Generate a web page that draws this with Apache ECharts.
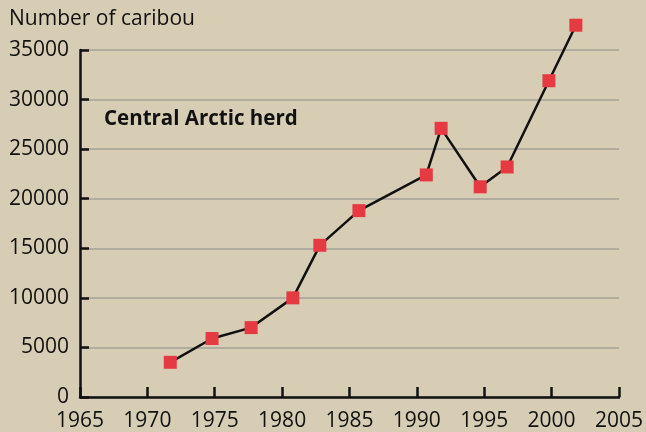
<!DOCTYPE html>
<html>
<head>
<meta charset="utf-8">
<script src="https://cdn.jsdelivr.net/npm/echarts@6/dist/echarts.min.js"></script>
<style>
  html, body { margin: 0; padding: 0; background: #d6cdb4; }
  #chart { width: 646px; height: 432px; }
</style>
</head>
<body>
<div id="chart"></div>
<script>
  // survey years and herd counts
  var years = [1971.7, 1974.8, 1977.7, 1980.8, 1982.8, 1985.7, 1990.7, 1991.8, 1994.7, 1996.7, 1999.8, 2001.8];
  var counts = [3500, 5900, 7000, 10000, 15300, 18800, 22400, 27100, 21200, 23200, 31900, 37500];
  var yTicks = [0, 5000, 10000, 15000, 20000, 25000, 30000, 35000];
  var xTicks = [1965, 1970, 1975, 1980, 1985, 1990, 1995, 2000, 2005];

  var pts = [];
  for (var i = 0; i < years.length; i++) {
    pts.push([years[i], counts[i]]);
  }

  var font = 'Open Sans';
  var chart = echarts.init(document.getElementById('chart'));
  chart.setOption({
    backgroundColor: '#d6cdb4',
    animation: false,
    title: [
      {
        text: 'Number of caribou',
        left: 9, top: 9, padding: 0,
        textStyle: { color: '#111', fontFamily: font, fontWeight: 'normal', fontSize: 21 }
      },
      {
        text: 'Central Arctic herd',
        left: 104, top: 109, padding: 0,
        textStyle: { color: '#111', fontFamily: font, fontWeight: 'bold', fontSize: 20.5 }
      }
    ],
    grid: { left: 80, right: 26, top: 50, bottom: 34 },
    xAxis: {
      type: 'value',
      min: xTicks[0],
      max: xTicks[xTicks.length - 1],
      interval: 5,
      axisLine: { show: true, lineStyle: { color: '#111', width: 2.5 } },
      axisTick: { show: true, inside: true, length: 10, lineStyle: { color: '#111', width: 2.5 } },
      axisLabel: {
        color: '#111', fontFamily: font, fontSize: 21, margin: 14,
        formatter: function (v) { return String(v); }
      },
      splitLine: { show: false }
    },
    yAxis: {
      type: 'value',
      min: yTicks[0],
      max: yTicks[yTicks.length - 1],
      interval: 5000,
      axisLine: { show: true, lineStyle: { color: '#111', width: 2.5 } },
      axisTick: { show: true, inside: true, length: 9, lineStyle: { color: '#111', width: 2.5 } },
      axisLabel: {
        color: '#111', fontFamily: font, fontSize: 21, margin: 11,
        formatter: function (v) { return String(v); }
      },
      splitLine: { show: true, lineStyle: { color: '#a3a09a', width: 1.5 } }
    },
    series: [{
      type: 'line',
      data: pts,
      clip: false,
      symbol: 'rect',
      symbolSize: 13,
      itemStyle: { color: '#e63a42' },
      lineStyle: { color: '#111', width: 2.5 },
      z: 5
    }]
  });
</script>
</body>
</html>
